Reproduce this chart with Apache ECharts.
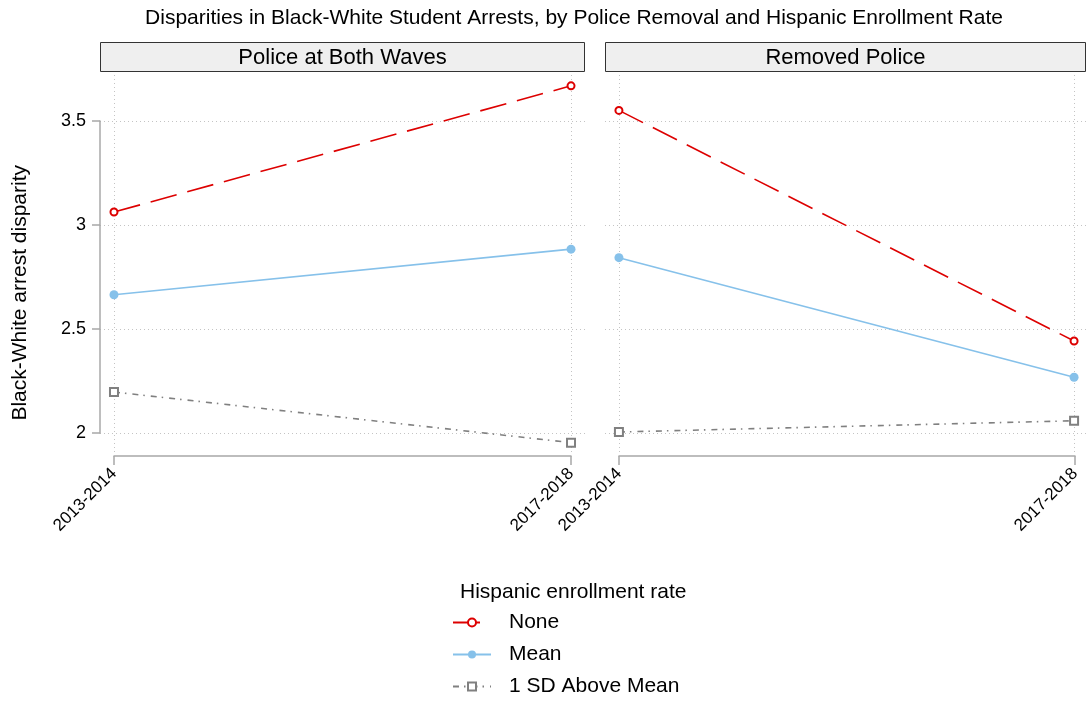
<!DOCTYPE html>
<html>
<head>
<meta charset="utf-8">
<script src="https://cdn.jsdelivr.net/npm/echarts@6/dist/echarts.min.js"></script>
<style>
  html, body { margin: 0; padding: 0; background: #fff; }
  #chart { width: 1088px; height: 702px; }
</style>
</head>
<body>
<div id="chart"></div>
<script>
// Survey waves and panels
const periods = ['2013-2014', '2017-2018'];
const panels = ['Police at Both Waves', 'Removed Police'];
const yTicks = [2, 2.5, 3, 3.5];

// Black-White arrest disparity by Hispanic enrollment rate
const bothNone = [3.062, 3.668];
const bothMean = [2.665, 2.884];
const bothSD = [2.198, 1.955];
const removedNone = [3.550, 2.443];
const removedMean = [2.843, 2.269];
const removedSD = [2.006, 2.060];

const RED = '#dd0000';
const BLUE = '#86c1ea';
const GRAY = '#808080';
const FONT = 'Liberation Sans, Arial, Helvetica, sans-serif';

const pad = 0.0306;
const dataGrids = [
  { left: 100, top: 75, width: 485, height: 377 },
  { left: 605, top: 75, width: 483, height: 377 }
];
const frameGrids = [
  { left: 114, top: 121, width: 457, height: 312 },
  { left: 619, top: 121, width: 456, height: 312 }
];

const gridLine = { show: true, lineStyle: { color: '#c4c4c4', type: [1, 3], width: 1 } };

const xAxes = [], yAxes = [];
// data grids: dotted reference lines only
for (let i = 0; i < 2; i++) {
  xAxes.push({
    gridIndex: i, type: 'value', min: -pad, max: 1 + pad,
    axisLine: { show: false }, axisLabel: { show: false },
    axisTick: { show: false, customValues: [0, 1] },
    splitLine: gridLine
  });
  yAxes.push({
    gridIndex: i, type: 'value', min: 1.91, max: 3.72,
    axisLine: { show: false }, axisLabel: { show: false },
    axisTick: { show: false, customValues: yTicks },
    splitLine: gridLine
  });
}
// frame grids: range-frame axes
for (let i = 0; i < 2; i++) {
  xAxes.push({
    gridIndex: 2 + i, type: 'category', data: periods, boundaryGap: false,
    offset: 23,
    axisLine: { show: true, lineStyle: { color: '#a8a8a8', width: 1.5 } },
    axisTick: { show: true, length: 9, lineStyle: { color: '#a8a8a8', width: 1.5 } },
    axisLabel: { rotate: 45, fontSize: 17, color: '#000', fontFamily: FONT, margin: 15, interval: 0 },
    splitLine: { show: false }
  });
  yAxes.push({
    gridIndex: 2 + i, type: 'value', min: 2, max: 3.5, interval: 0.5,
    show: i === 0, offset: 14,
    axisLine: { show: true, lineStyle: { color: '#a8a8a8', width: 1.5 } },
    axisTick: { show: true, length: 8, lineStyle: { color: '#a8a8a8', width: 1.5 } },
    axisLabel: { fontSize: 18, color: '#000', fontFamily: FONT, margin: 14 },
    splitLine: { show: false }
  });
}

function pts(vals) { return vals.map((v, k) => [k, v]); }

const groups = [
  [bothNone, bothMean, bothSD],
  [removedNone, removedMean, removedSD]
];
const styles = [
  { name: 'None', color: RED, type: [27, 11], symbol: 'emptyCircle', size: 7 },
  { name: 'Mean', color: BLUE, type: 'solid', symbol: 'circle', size: 9 },
  { name: '1 SD Above Mean', color: GRAY, type: [6, 5, 1.5, 6], symbol: 'emptyRect', size: 8 }
];

const series = [];
for (let p = 0; p < 2; p++) {
  for (let s = 0; s < 3; s++) {
    const st = styles[s];
    series.push({
      type: 'line', name: st.name,
      xAxisIndex: p, yAxisIndex: p,
      data: pts(groups[p][s]),
      symbol: st.symbol, symbolSize: st.size,
      itemStyle: { color: st.color, borderWidth: 1.5 },
      lineStyle: { color: st.color, type: st.type, width: 1.6 },
      clip: false, animation: false, z: 3 + s
    });
  }
}

const strips = panels.map((label, i) => ({
  type: 'group',
  left: i === 0 ? 100 : 605, top: 42,
  children: [
    { type: 'rect', shape: { x: 0, y: 0, width: i === 0 ? 484 : 480, height: 29 },
      style: { fill: '#efefef', stroke: '#333', lineWidth: 1 } },
    { type: 'text', x: (i === 0 ? 484 : 480) / 2, y: 15,
      style: { text: label, fill: '#000', font: '22px ' + FONT, align: 'center', verticalAlign: 'middle' } }
  ]
}));

const option = {
  backgroundColor: '#fff',
  animation: false,
  title: [
    { text: 'Disparities in Black-White Student Arrests, by Police Removal and Hispanic Enrollment Rate',
      left: 569, top: 3, textAlign: 'center',
      textStyle: { fontSize: 21, fontWeight: 'normal', color: '#000', fontFamily: FONT } },
    { text: 'Hispanic enrollment rate', left: 455, top: 577,
      textStyle: { fontSize: 21, fontWeight: 'normal', color: '#000', fontFamily: FONT } }
  ],
  grid: [...dataGrids, ...frameGrids],
  xAxis: xAxes,
  yAxis: yAxes,
  legend: {
    orient: 'vertical', left: 447, top: 607, height: 120,
    itemWidth: 38, itemHeight: 10, itemGap: 11,
    data: styles.map(s => s.name),
    textStyle: { fontSize: 21, color: '#000', fontFamily: FONT, padding: [0, 0, 0, 13] }
  },
  graphic: [
    ...strips,
    { type: 'text', left: 10, top: 165, rotation: Math.PI / 2,
      style: { text: 'Black-White arrest disparity', fill: '#000', font: '21px ' + FONT } }
  ],
  series: series
};

const chart = echarts.init(document.getElementById('chart'), null, { renderer: 'canvas' });
chart.setOption(option);
</script>
</body>
</html>
